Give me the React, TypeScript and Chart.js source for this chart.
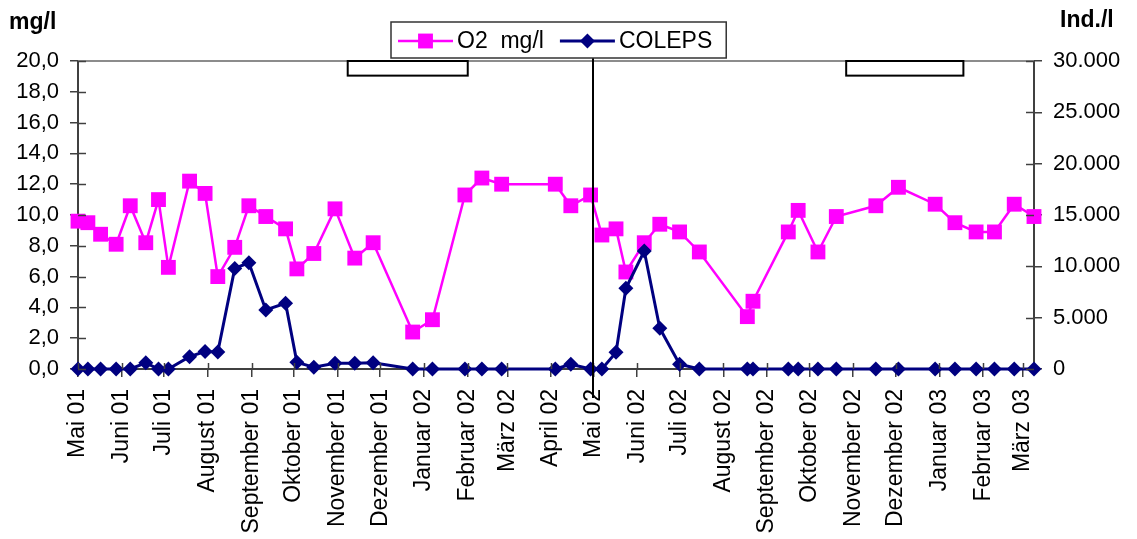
import React, { useEffect, useRef } from 'react';
import { Chart, registerables } from 'chart.js';

Chart.register(...registerables);

const FONT = '"Liberation Sans", Arial, Helvetica, sans-serif';

// Sampling dates (shared by both series)
const sampleDates = [
  '2001-05-01', '2001-05-08', '2001-05-17', '2001-05-28', '2001-06-07', '2001-06-18', '2001-06-27',
  '2001-07-04', '2001-07-19', '2001-07-30', '2001-08-08', '2001-08-20', '2001-08-30', '2001-09-11',
  '2001-09-25', '2001-10-03', '2001-10-15', '2001-10-30', '2001-11-13', '2001-11-26', '2001-12-24',
  '2002-01-07', '2002-01-30', '2002-02-11', '2002-02-25', '2002-04-04', '2002-04-15', '2002-04-29',
  '2002-05-07', '2002-05-17', '2002-05-24', '2002-06-06', '2002-06-17', '2002-07-01', '2002-07-15',
  '2002-08-18', '2002-08-22', '2002-09-16', '2002-09-23', '2002-10-07', '2002-10-20', '2002-11-17',
  '2002-12-03', '2002-12-29', '2003-01-12', '2003-01-27', '2003-02-09', '2003-02-23', '2003-03-09',
];

// O2 mg/l (left axis)
const o2Values = [
  9.6, 9.5, 8.75, 8.1, 10.6, 8.2, 11.0, 6.6, 12.2, 11.4, 6.0, 7.9, 10.6, 9.9, 9.1, 6.5, 7.5, 10.4,
  7.2, 8.2, 2.4, 3.2, 11.3, 12.4, 12.0, 12.0, 10.6, 11.3, 8.7, 9.1, 6.3, 8.2, 9.4, 8.9, 7.6, 3.4,
  4.4, 8.9, 10.3, 7.6, 9.9, 10.6, 11.8, 10.7, 9.5, 8.9, 8.9, 10.7, 9.9,
];

// COLEPS Ind./l (right axis)
const colepsValues = [
  0, 0, 0, 0, 0, 600, 0, 0, 1200, 1700, 1650, 9800, 10350, 5750, 6400, 650, 170, 550, 550, 610,
  0, 0, 0, 0, 0, 0, 460, 0, 0, 1620, 7860, 11490, 3960, 460, 0, 0, 0, 0, 0, 0, 0, 0, 0, 0, 0, 0,
  0, 0, 0,
];

const monthStarts = [
  '2001-05-01', '2001-06-01', '2001-07-01', '2001-08-01', '2001-09-01', '2001-10-01', '2001-11-01',
  '2001-12-01', '2002-01-01', '2002-02-01', '2002-03-01', '2002-04-01', '2002-05-01', '2002-06-01',
  '2002-07-01', '2002-08-01', '2002-09-01', '2002-10-01', '2002-11-01', '2002-12-01', '2003-01-01',
  '2003-02-01', '2003-03-01',
];
const monthLabels = [
  'Mai 01', 'Juni 01', 'Juli 01', 'August 01', 'September 01', 'Oktober 01', 'November 01',
  'Dezember 01', 'Januar 02', 'Februar 02', 'März 02', 'April 02', 'Mai 02', 'Juni 02', 'Juli 02',
  'August 02', 'September 02', 'Oktober 02', 'November 02', 'Dezember 02', 'Januar 03',
  'Februar 03', 'März 03',
];

// Periods marked by open boxes at the top
const markedPeriods = [
  ['2001-11-08', '2002-02-01'],
  ['2002-10-27', '2003-01-18'],
];
const markTop = 20;
const markBottom = 19.05;
const dividerDate = '2002-05-01';

const seriesNames = ['O2  mg/l', 'COLEPS'];
const seriesColors = ['#FF00FF', '#000080'];
const leftTitle = 'mg/l';
const rightTitle = 'Ind./l';

const ORIGIN = Date.UTC(2001, 4, 1);
function dayOf(s: string): number {
  const [y, m, d] = s.split('-').map(Number);
  return (Date.UTC(y, m - 1, d) - ORIGIN) / 86400000;
}

const AXIS = '#404040';

function fmtThousands(v: number): string {
  const s = Math.round(v).toString();
  return s.replace(/\B(?=(\d{3})+(?!\d))/g, '.');
}

const decorPlugin = {
  id: 'decor',
  afterDraw(chart: any) {
    const ctx = chart.ctx as CanvasRenderingContext2D;
    const { left, right, top, bottom } = chart.chartArea;
    const xs = chart.scales.x;
    const yl = chart.scales.y;
    const yr = chart.scales.y1;
    const line = (x1: number, y1: number, x2: number, y2: number) => {
      ctx.beginPath();
      ctx.moveTo(x1, y1);
      ctx.lineTo(x2, y2);
      ctx.stroke();
    };
    ctx.save();
    // top border of plot area
    ctx.strokeStyle = '#8c8c8c';
    ctx.lineWidth = 2;
    line(left, top, right, top);

    // inner halves of cross tick marks
    ctx.strokeStyle = AXIS;
    ctx.lineWidth = 1.5;
    xs.ticks.forEach((t: any) => {
      const px = Math.round(xs.getPixelForValue(t.value)) + 0.5;
      line(px, bottom, px, bottom - 6);
    });
    yl.ticks.forEach((t: any) => {
      const py = Math.round(yl.getPixelForValue(t.value)) + 0.5;
      line(left, py, left + 8, py);
    });
    yr.ticks.forEach((t: any) => {
      const py = Math.round(yr.getPixelForValue(t.value)) + 0.5;
      line(right - 8, py, right, py);
    });

    // marked periods (open boxes)
    ctx.lineWidth = 2;
    ctx.strokeStyle = '#000';
    markedPeriods.forEach(([a, b]) => {
      const x1 = xs.getPixelForValue(dayOf(a));
      const x2 = xs.getPixelForValue(dayOf(b));
      const y1 = yl.getPixelForValue(markTop);
      const y2 = yl.getPixelForValue(markBottom);
      ctx.fillStyle = '#fff';
      ctx.fillRect(x1, y1, x2 - x1, y2 - y1);
      ctx.strokeRect(x1, y1, x2 - x1, y2 - y1);
    });

    // divider line
    const dx = Math.round(xs.getPixelForValue(dayOf(dividerDate)));
    ctx.lineWidth = 2;
    ctx.strokeStyle = '#000';
    line(dx, top - 3, dx, bottom + 29);

    // legend
    ctx.font = `23px ${FONT}`;
    const boxLeft = 391;
    const boxTop = 22;
    const boxH = 36;
    const lineLen = 55;
    const cy = boxTop + boxH / 2 + 1;
    let x = boxLeft + 7;
    const items: any[] = [];
    chart.data.datasets
      .slice()
      .sort((a: any, b: any) => a.legendIndex - b.legendIndex)
      .forEach((ds: any, i: number) => {
        const w = ctx.measureText(ds.label).width;
        items.push({ ds, x, w });
        x += lineLen + 4 + w + (i === 0 ? 16 : 14);
      });
    const boxW = x - boxLeft;
    ctx.fillStyle = '#fff';
    ctx.fillRect(boxLeft, boxTop, boxW, boxH);
    ctx.strokeStyle = '#333';
    ctx.lineWidth = 1.5;
    ctx.strokeRect(boxLeft, boxTop, boxW, boxH);
    items.forEach(({ ds, x: ix }) => {
      ctx.strokeStyle = ds.borderColor;
      ctx.lineWidth = ds.borderWidth;
      line(ix, cy, ix + lineLen, cy);
      ctx.fillStyle = ds.backgroundColor;
      const mx = ix + lineLen / 2;
      if (ds.pointStyle === 'rect') {
        const s = ds.pointRadius * Math.SQRT1_2;
        ctx.fillRect(mx - s, cy - s, 2 * s, 2 * s);
      } else {
        const r = ds.pointRadius;
        ctx.beginPath();
        ctx.moveTo(mx - r, cy);
        ctx.lineTo(mx, cy - r);
        ctx.lineTo(mx + r, cy);
        ctx.lineTo(mx, cy + r);
        ctx.closePath();
        ctx.fill();
      }
      ctx.fillStyle = '#000';
      ctx.textBaseline = 'middle';
      ctx.textAlign = 'left';
      ctx.fillText(ds.label, ix + lineLen + 4, cy + 1);
    });

    // axis titles
    ctx.font = `bold 23px ${FONT}`;
    ctx.fillStyle = '#000';
    ctx.textBaseline = 'alphabetic';
    ctx.textAlign = 'left';
    ctx.fillText(leftTitle, 9, 29);
    ctx.fillText(rightTitle, 1060, 27);
    ctx.restore();
  },
};

export default function App() {
  const ref = useRef<HTMLCanvasElement | null>(null);

  useEffect(() => {
    if (!ref.current) return;
    const o2Points = sampleDates.map((d, i) => ({ x: dayOf(d), y: o2Values[i] }));
    const colepsPoints = sampleDates.map((d, i) => ({ x: dayOf(d), y: colepsValues[i] }));
    const monthTicks = monthStarts.map(dayOf);
    const xMax = dayOf(sampleDates[sampleDates.length - 1]);

    const chart = new Chart(ref.current, {
      type: 'line',
      data: {
        datasets: [
          {
            label: seriesNames[1],
            data: colepsPoints,
            yAxisID: 'y1',
            borderColor: seriesColors[1],
            backgroundColor: seriesColors[1],
            borderWidth: 3,
            pointStyle: 'rectRot',
            pointRadius: 7.5,
            pointBorderWidth: 0,
            pointHoverRadius: 7.5,
            tension: 0,
            clip: false,
            order: 0,
            legendIndex: 1,
          } as any,
          {
            label: seriesNames[0],
            data: o2Points,
            yAxisID: 'y',
            borderColor: seriesColors[0],
            backgroundColor: seriesColors[0],
            borderWidth: 2.5,
            pointStyle: 'rect',
            pointRadius: 10.5,
            pointBorderWidth: 0,
            pointHoverRadius: 10.5,
            tension: 0,
            clip: false,
            order: 1,
            legendIndex: 0,
          } as any,
        ],
      },
      options: {
        animation: false,
        responsive: false,
        maintainAspectRatio: false,
        layout: { padding: { top: 61, left: 0, right: 0, bottom: 0 } },
        plugins: {
          legend: { display: false },
          tooltip: { enabled: false },
          title: { display: false },
        },
        events: [],
        scales: {
          x: {
            type: 'linear',
            position: 'bottom',
            min: 0,
            max: xMax,
            afterBuildTicks: (s: any) => {
              s.ticks = monthTicks.map((v) => ({ value: v }));
            },
            afterFit: (s: any) => {
              s.height = 170;
            },
            ticks: {
              autoSkip: false,
              minRotation: 90,
              maxRotation: 90,
              padding: 12,
              color: '#000',
              font: { family: FONT, size: 23 },
              callback: (_v: any, i: number) => monthLabels[i],
            },
            grid: { drawOnChartArea: false, tickLength: 8, color: AXIS, lineWidth: 1.5 },
            border: { color: AXIS, width: 2 },
          },
          y: {
            type: 'linear',
            position: 'left',
            min: 0,
            max: 20,
            afterFit: (s: any) => {
              s.width = 78;
            },
            ticks: {
              stepSize: 2,
              padding: 11,
              color: '#000',
              font: { family: FONT, size: 22 },
              callback: (v: any) => Number(v).toFixed(1).replace('.', ','),
            },
            grid: { drawOnChartArea: false, tickLength: 8, color: AXIS, lineWidth: 1.5 },
            border: { color: AXIS, width: 2 },
          },
          y1: {
            type: 'linear',
            position: 'right',
            min: 0,
            max: 30000,
            afterFit: (s: any) => {
              s.width = 103;
            },
            ticks: {
              stepSize: 5000,
              padding: 11,
              color: '#000',
              font: { family: FONT, size: 22 },
              callback: (v: any) => fmtThousands(Number(v)),
            },
            grid: { drawOnChartArea: false, tickLength: 8, color: AXIS, lineWidth: 1.5 },
            border: { color: AXIS, width: 2 },
          },
        },
      } as any,
      plugins: [decorPlugin],
    });
    return () => chart.destroy();
  }, []);

  return (
    <div style={{ position: 'absolute', left: 0, top: 0, width: 1137, height: 539, background: '#fff' }}>
      <canvas ref={ref} width={1137} height={539} style={{ display: 'block' }} />
    </div>
  );
}
